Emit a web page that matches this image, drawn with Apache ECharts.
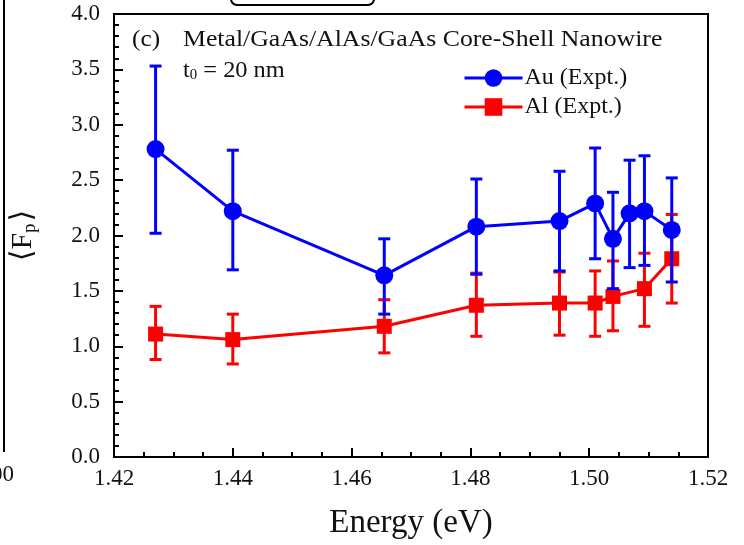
<!DOCTYPE html>
<html>
<head>
<meta charset="utf-8">
<script src="https://cdn.jsdelivr.net/npm/echarts@6/dist/echarts.min.js"></script>
<style>
  html, body { margin: 0; padding: 0; background: #fff; }
  #chart { width: 744px; height: 545px; }
</style>
</head>
<body>
<div id="chart"></div>
<script>
// Purcell factor <Fp> vs photon energy for Au- and Al-coated core-shell nanowires
var energyAu = [1.427, 1.440, 1.4655, 1.481, 1.495, 1.501, 1.504, 1.5068, 1.5093, 1.5139];
var fpAu     = [2.78, 2.22, 1.64, 2.08, 2.13, 2.29, 1.97, 2.20, 2.22, 2.05];
var fpAuLow  = [2.02, 1.69, 1.29, 1.65, 1.68, 1.79, 1.52, 1.71, 1.73, 1.58];
var fpAuHigh = [3.53, 2.77, 1.97, 2.51, 2.58, 2.79, 2.39, 2.68, 2.72, 2.52];

var energyAl = [1.427, 1.440, 1.4655, 1.481, 1.495, 1.501, 1.504, 1.5093, 1.5139];
var fpAl     = [1.11, 1.06, 1.18, 1.37, 1.39, 1.39, 1.45, 1.52, 1.79];
var fpAlLow  = [0.88, 0.84, 0.94, 1.09, 1.10, 1.09, 1.14, 1.18, 1.39];
var fpAlHigh = [1.36, 1.29, 1.42, 1.66, 1.67, 1.68, 1.77, 1.84, 2.19];

var xTicks = { min: 1.42, max: 1.52, interval: 0.02 };
var yTicks = { min: 0, max: 4, interval: 0.5 };

var SERIF = '"Liberation Serif", "DejaVu Serif", serif';
var BLUE = '#0000ff';
var RED = '#ff0000';
var INK = '#111';

function pairs(xs, ys) {
  return xs.map(function (x, i) { return [x, ys[i]]; });
}
function errRows(xs, lo, hi) {
  return xs.map(function (x, i) { return [x, lo[i], hi[i]]; });
}

function errorBarSeries(name, rows, color, z) {
  return {
    name: name,
    type: 'custom',
    z: z,
    silent: true,
    data: rows,
    encode: { x: 0, y: [1, 2] },
    renderItem: function (params, api) {
      var x = api.value(0);
      var lo = api.coord([x, api.value(1)]);
      var hi = api.coord([x, api.value(2)]);
      var cap = 6;
      var style = { stroke: color, lineWidth: 3 };
      return {
        type: 'group',
        children: [
          { type: 'line', shape: { x1: lo[0], y1: lo[1], x2: hi[0], y2: hi[1] }, style: style },
          { type: 'line', shape: { x1: lo[0] - cap, y1: lo[1], x2: lo[0] + cap, y2: lo[1] }, style: style },
          { type: 'line', shape: { x1: hi[0] - cap, y1: hi[1], x2: hi[0] + cap, y2: hi[1] }, style: style }
        ]
      };
    }
  };
}

var chart = echarts.init(document.getElementById('chart'), null, { renderer: 'canvas' });

chart.setOption({
  animation: false,
  backgroundColor: '#fff',
  textStyle: { fontFamily: SERIF },
  grid: {
    left: 114, right: 36, top: 14, bottom: 80,
    show: true, borderColor: '#000', borderWidth: 2, backgroundColor: 'transparent'
  },
  legend: {
    left: 458, top: 61, orient: 'vertical',
    itemWidth: 58, itemHeight: 22, itemGap: 5,
    lineStyle: { width: 3 },
    textStyle: { fontFamily: SERIF, fontSize: 24, color: INK, padding: [0, 0, 0, -3] },
    data: ['Au (Expt.)', 'Al (Expt.)']
  },
  xAxis: {
    type: 'value',
    min: xTicks.min, max: xTicks.max, interval: xTicks.interval,
    name: 'Energy (eV)', nameLocation: 'middle', nameGap: 50,
    nameTextStyle: { fontFamily: SERIF, fontSize: 33, color: INK },
    axisLine: { show: true, onZero: false, lineStyle: { color: '#000', width: 2 } },
    axisTick: { show: true, inside: true, length: 9, lineStyle: { color: '#000', width: 2 } },
    minorTick: { show: true, splitNumber: 4, length: 5, lineStyle: { color: '#000', width: 2 } },
    splitLine: { show: false },
    axisLabel: {
      fontFamily: SERIF, fontSize: 23, color: INK, margin: 10,
      formatter: function (v) { return v.toFixed(2); }
    }
  },
  yAxis: {
    type: 'value',
    min: yTicks.min, max: yTicks.max, interval: yTicks.interval,
    name: '{a|⟨F}{s|p}{a|⟩}', nameLocation: 'middle', nameGap: 74, nameRotate: 90,
    nameTextStyle: {
      rich: {
        a: { fontFamily: SERIF, fontSize: 30, color: INK },
        s: { fontFamily: SERIF, fontSize: 19, color: INK, verticalAlign: 'bottom', padding: [14, 2, 0, 0] }
      }
    },
    axisLine: { show: true, onZero: false, lineStyle: { color: '#000', width: 2 } },
    axisTick: { show: true, inside: true, length: 9, lineStyle: { color: '#000', width: 2 } },
    minorTick: { show: true, splitNumber: 5, length: 5, lineStyle: { color: '#000', width: 2 } },
    splitLine: { show: false },
    axisLabel: {
      fontFamily: SERIF, fontSize: 23, color: INK, margin: 14,
      formatter: function (v) { return v.toFixed(1); }
    }
  },
  graphic: [
    { type: 'text', x: 132, y: 28, scaleX: 1.1, style: { text: '(c)', font: '23px ' + SERIF, fill: INK } },
    { type: 'text', x: 183, y: 28, scaleX: 1.12, style: { text: 'Metal/GaAs/AlAs/GaAs Core-Shell Nanowire', font: '23px ' + SERIF, fill: INK } },
    {
      type: 'text', x: 183, y: 59, scaleX: 1.06,
      style: {
        text: '{t|t}{s|0}{t| = 20 nm}',
        rich: {
          t: { font: '23px ' + SERIF, fill: INK },
          s: { font: '14px ' + SERIF, fill: INK, verticalAlign: 'bottom', padding: [9, 0, 0, 0] }
        }
      }
    },
    // neighbouring panel edges at the figure border
    { type: 'line', shape: { x1: 4, y1: 0, x2: 4, y2: 452 }, style: { stroke: '#000', lineWidth: 2 } },
    { type: 'text', x: -9, y: 463, style: { text: '00', font: '23px ' + SERIF, fill: INK } },
    { type: 'rect', shape: { x: 231, y: -30, width: 143, height: 35, r: 6 }, style: { fill: 'none', stroke: '#000', lineWidth: 2 } }
  ],
  series: [
    errorBarSeries('Al error', errRows(energyAl, fpAlLow, fpAlHigh), RED, 2),
    {
      name: 'Al (Expt.)', type: 'line', z: 3,
      data: pairs(energyAl, fpAl),
      symbol: 'rect', symbolSize: 15,
      lineStyle: { color: RED, width: 3 },
      itemStyle: { color: RED }
    },
    errorBarSeries('Au error', errRows(energyAu, fpAuLow, fpAuHigh), BLUE, 4),
    {
      name: 'Au (Expt.)', type: 'line', z: 5,
      data: pairs(energyAu, fpAu),
      symbol: 'circle', symbolSize: 18,
      lineStyle: { color: BLUE, width: 3 },
      itemStyle: { color: BLUE }
    }
  ]
});
</script>
</body>
</html>
